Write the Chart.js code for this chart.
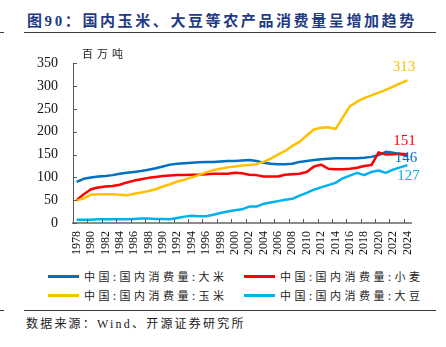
<!DOCTYPE html>
<html lang="zh-CN">
<head>
<meta charset="UTF-8">
<title>国内农产品消费量</title>
<script src="https://cdn.jsdelivr.net/npm/chart.js"></script>
<style>
  html, body { margin: 0; padding: 0; background: #fff; }
  .page { position: relative; width: 446px; height: 347px; overflow: hidden; font-family: "Noto Sans CJK SC", sans-serif; }
  .title { position: absolute; left: 27px; top: 10px; font-size: 15px; line-height: 20px; font-weight: bold; color: #1f3a86; letter-spacing: 2.6px; white-space: nowrap; }
  .title .num, .source .en { font-family: "Liberation Serif", serif; }
  .rule { position: absolute; height: 1px; background: #3c3c3c; }
  .chart-box { position: absolute; left: 0; top: 40px; width: 446px; height: 226px; }
  .unit { position: absolute; left: 82px; top: 46px; font-size: 11px; line-height: 14px; letter-spacing: 4px; color: #222; }
  .lg-line { position: absolute; height: 3px; width: 31px; }
  .lg-text { position: absolute; font-size: 11px; line-height: 14px; letter-spacing: 3.5px; color: #222; white-space: nowrap; }
  .source { position: absolute; left: 26px; top: 315px; font-size: 12px; line-height: 16px; letter-spacing: 2.2px; color: #222; white-space: nowrap; }
</style>
</head>
<body>
<div class="page">
  <div class="rule" style="left:0;top:32px;width:4px;"></div>
  <div class="title">图<span class="num">90</span>：国内玉米、大豆等农产品消费量呈增加趋势</div>
  <div class="rule" style="left:24px;top:32px;width:412px;"></div>
  <div class="chart-box"><canvas id="chart"></canvas></div>
  <div class="unit">百万吨</div>
  <div id="legend"></div>
  <div class="rule" style="left:0;top:310px;width:4px;"></div>
  <div class="rule" style="left:24px;top:310px;width:412px;"></div>
  <div class="source">数据来源：<span class="en">Wind</span>、开源证券研究所</div>
</div>

<script>
// 年份（横轴）
const years = ['1978','1979','1980','1981','1982','1983','1984','1985','1986','1987',
  '1988','1989','1990','1991','1992','1993','1994','1995','1996','1997',
  '1998','1999','2000','2001','2002','2003','2004','2005','2006','2007',
  '2008','2009','2010','2011','2012','2013','2014','2015','2016','2017',
  '2018','2019','2020','2021','2022','2023','2024'];

// 国内消费量，百万吨
const rice = [90, 97, 100, 102, 103, 105, 108, 110, 112, 114,
  117, 120, 124, 128, 130, 131, 132, 133, 134, 134,
  135, 136, 136, 137, 138, 136, 132, 130, 129, 129,
  130, 134, 136, 138, 140, 141, 142, 142, 142, 142,
  143, 145, 149, 156, 154, 151, 146];
const wheat = [50, 63, 74, 78, 80, 81, 84, 89, 93, 96,
  99, 101, 103, 104, 105, 105, 106, 106, 107, 108,
  108, 108, 110, 109, 106, 105, 102, 102, 102, 106,
  107, 108, 112, 124, 128, 119, 118, 118, 119, 121,
  125, 127, 155, 150, 151, 152, 151];
const corn = [49, 54, 62, 63, 63, 63, 62, 61, 64, 67,
  70, 74, 80, 85, 91, 95, 100, 105, 111, 116,
  119, 122, 124, 126, 127, 129, 134, 141, 150, 158,
  169, 178, 192, 205, 209, 210, 206, 231, 256, 266,
  274, 280, 286, 292, 299, 306, 313];
const soybean = [7, 7, 7, 8, 8, 8, 8, 8, 9, 10,
  10, 9, 9, 8, 11, 14, 16, 15, 15, 18,
  22, 25, 28, 30, 36, 36, 42, 45, 48, 51,
  53, 60, 66, 73, 78, 83, 88, 98, 104, 110,
  105, 112, 115, 110, 117, 122, 127];

const seriesNames = ['中国:国内消费量:大米', '中国:国内消费量:小麦', '中国:国内消费量:玉米', '中国:国内消费量:大豆'];
const seriesData = [rice, wheat, corn, soybean];
const seriesColors = ['#0070c0', '#ff0000', '#ffc000', '#00b0f0'];
// 末端数值标注相对末点的偏移
const endLabelOffsets = [[-1.5, 1.5], [-3, -13.5], [-3.5, -13.5], [1, 10.5]];

// 图例：两列两行
const legendSlots = [[48, 276], [244, 276], [48, 295], [244, 295]];
const legendEl = document.getElementById('legend');
seriesNames.forEach((name, i) => {
  const [x, y] = legendSlots[i];
  const line = document.createElement('div');
  line.className = 'lg-line';
  line.style.left = x + 'px';
  line.style.top = (y - 1.5) + 'px';
  line.style.background = seriesColors[i];
  const txt = document.createElement('div');
  txt.className = 'lg-text';
  txt.style.left = (x + 36) + 'px';
  txt.style.top = (y - 7) + 'px';
  txt.textContent = name;
  legendEl.appendChild(line);
  legendEl.appendChild(txt);
});

// 坐标轴内侧刻度线
const innerTicks = {
  id: 'innerTicks',
  afterDraw(chart) {
    const { ctx, chartArea, scales: { x, y } } = chart;
    ctx.save();
    ctx.strokeStyle = '#595959';
    ctx.lineWidth = 1;
    ctx.beginPath();
    y.ticks.forEach(t => {
      const py = Math.round(y.getPixelForValue(t.value)) + 0.5;
      ctx.moveTo(chartArea.left, py);
      ctx.lineTo(chartArea.left + 4, py);
    });
    const half = (x.getPixelForValue(1) - x.getPixelForValue(0)) / 2;
    for (let i = 0; i < years.length; i += 2) {
      const px = Math.round(x.getPixelForValue(i) - half) + 0.5;
      ctx.moveTo(px, chartArea.bottom);
      ctx.lineTo(px, chartArea.bottom - 4);
    }
    ctx.stroke();
    ctx.restore();
  }
};

// 每条线末端的数值
const endLabels = {
  id: 'endLabels',
  afterDatasetsDraw(chart) {
    const { ctx } = chart;
    ctx.save();
    ctx.font = '15px "Liberation Serif", serif';
    ctx.textAlign = 'center';
    ctx.textBaseline = 'middle';
    chart.data.datasets.forEach((ds, i) => {
      const pts = chart.getDatasetMeta(i).data;
      const last = pts[pts.length - 1];
      const [dx, dy] = endLabelOffsets[i];
      ctx.fillStyle = seriesColors[i];
      ctx.fillText(String(ds.data[ds.data.length - 1]), last.x + dx, last.y + dy);
    });
    ctx.restore();
  }
};

new Chart(document.getElementById('chart'), {
  type: 'line',
  data: {
    labels: years,
    datasets: seriesNames.map((name, i) => ({
      label: name,
      data: seriesData[i],
      borderColor: seriesColors[i],
      borderWidth: 2.5,
      pointRadius: 0,
      tension: 0,
      borderJoinStyle: 'round',
      order: 3 - i
    }))
  },
  options: {
    responsive: true,
    maintainAspectRatio: false,
    animation: false,
    layout: { padding: { left: 0, right: 35, top: 12, bottom: 0 } },
    plugins: { legend: { display: false }, tooltip: { enabled: false } },
    scales: {
      x: {
        offset: true,
        grid: { display: false, drawTicks: false },
        border: { display: true, color: '#8c8c8c', width: 2 },
        ticks: {
          autoSkip: false,
          minRotation: 90,
          maxRotation: 90,
          padding: 8,
          color: '#111',
          font: { family: '"Liberation Serif", serif', size: 12 },
          callback: (v, i) => (i % 2 === 0 ? years[i] : '')
        },
        afterFit: s => { s.height = 43; }
      },
      y: {
        min: 0,
        max: 350,
        grid: { display: false, drawTicks: false },
        border: { display: true, color: '#595959', width: 1 },
        ticks: {
          stepSize: 50,
          padding: 15,
          color: '#111',
          font: { family: '"Liberation Serif", serif', size: 14 }
        },
        afterFit: s => { s.width = 73; }
      }
    }
  },
  plugins: [innerTicks, endLabels]
});
</script>
</body>
</html>
